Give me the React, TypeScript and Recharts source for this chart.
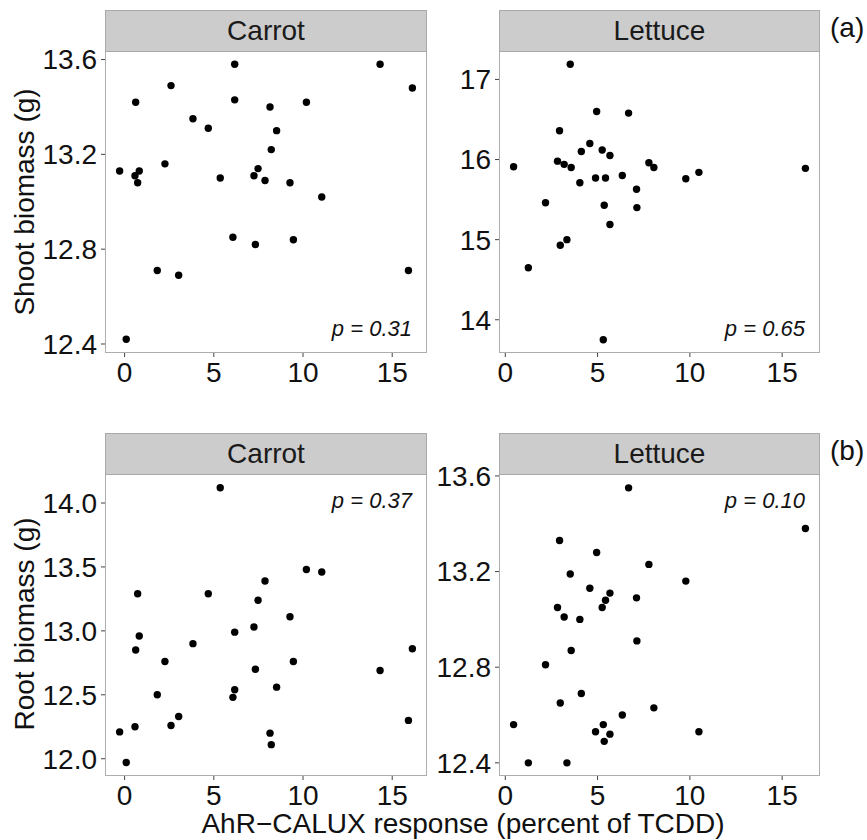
import React from "react";
import { ScatterChart, Scatter, XAxis, YAxis } from "recharts";

// Carrot samples (x = AhR-CALUX response, percent of TCDD)
const carrotX = [-0.28, 0.09, 0.62, 0.58, 0.73, 0.82, 1.83, 2.26, 2.6, 3.03, 3.83, 4.69, 5.36, 6.17, 6.17, 6.07, 7.25, 7.48, 7.33, 7.87, 8.15, 8.52, 8.22, 9.27, 9.46, 10.19, 11.05, 14.32, 16.13, 15.91];
const carrotShoot = [13.13, 12.42, 13.42, 13.11, 13.08, 13.13, 12.71, 13.16, 13.49, 12.69, 13.35, 13.31, 13.1, 13.58, 13.43, 12.85, 13.11, 13.14, 12.82, 13.09, 13.4, 13.3, 13.22, 13.08, 12.84, 13.42, 13.02, 13.58, 13.48, 12.71];
const carrotRoot = [12.21, 11.97, 12.85, 12.25, 13.29, 12.96, 12.5, 12.76, 12.26, 12.33, 12.9, 13.29, 14.12, 12.99, 12.54, 12.48, 13.03, 13.24, 12.7, 13.39, 12.2, 12.56, 12.11, 13.11, 12.76, 13.48, 13.46, 12.69, 12.86, 12.3];

// Lettuce samples
const lettuceX = [0.45, 1.25, 2.18, 2.83, 2.94, 2.98, 3.19, 3.34, 3.52, 3.57, 4.04, 4.12, 4.58, 4.89, 4.95, 5.25, 5.36, 5.31, 5.43, 5.67, 5.67, 6.34, 6.68, 7.11, 7.13, 7.78, 8.05, 9.78, 10.49, 16.26];
const lettuceShoot = [15.91, 14.65, 15.46, 15.98, 16.36, 14.93, 15.94, 15.0, 17.19, 15.9, 15.71, 16.1, 16.2, 15.77, 16.6, 16.12, 15.43, 13.75, 15.77, 16.05, 15.19, 15.8, 16.58, 15.63, 15.4, 15.96, 15.9, 15.76, 15.84, 15.89];
const lettuceRoot = [12.56, 12.4, 12.81, 13.05, 13.33, 12.65, 13.01, 12.4, 13.19, 12.87, 13.0, 12.69, 13.13, 12.53, 13.28, 13.05, 12.49, 12.56, 13.08, 13.11, 12.52, 12.6, 13.55, 13.09, 12.91, 13.23, 12.63, 13.16, 12.53, 13.38];

const xTicks = [0, 5, 10, 15];
const shootCarrotTicks = [12.4, 12.8, 13.2, 13.6];
const shootLettuceTicks = [14, 15, 16, 17];
const rootCarrotTicks = [12.0, 12.5, 13.0, 13.5, 14.0];
const rootLettuceTicks = [12.4, 12.8, 13.2, 13.6];

const pValues = ["0.31", "0.65", "0.37", "0.10"];

const FONT = '"Liberation Sans", Arial, Helvetica, sans-serif';

const toPoints = (xs: number[], ys: number[]) => xs.map((x, i) => ({ x, y: ys[i] }));

type Box = { x: number; y: number; w: number; h: number };

interface PanelProps {
  chart: Box; // outer chart box
  plot: Box; // plotting area
  data: { x: number; y: number }[];
  xDomain: [number, number];
  yDomain: [number, number];
  yTicks: number[];
  yFmt: (v: number) => string;
  strip: string;
  p: string;
  pTop: boolean;
}

const Dot = (props: any) => <circle cx={props.cx} cy={props.cy} r={3.7} fill="#000" />;

const Panel = ({ chart, plot, data, xDomain, yDomain, yTicks, yFmt, strip, p, pTop }: PanelProps) => {
  const yAxisWidth = plot.x - chart.x;
  const marginTop = plot.y - chart.y;
  const marginRight = chart.x + chart.w - (plot.x + plot.w);
  const xAxisHeight = chart.y + chart.h - (plot.y + plot.h);

  return (
    <>
      <div style={{ position: "absolute", left: chart.x, top: chart.y }}>
        <ScatterChart
          width={chart.w}
          height={chart.h}
          margin={{ top: marginTop, right: marginRight, bottom: 0, left: 0 }}
        >
          <XAxis
            type="number"
            dataKey="x"
            domain={xDomain}
            ticks={xTicks}
            allowDataOverflow
            height={xAxisHeight}
            axisLine={false}
            tickSize={4}
            tickMargin={5}
            tickLine={{ stroke: "#444" }}
            tick={{ fontSize: 28, fill: "#111" }}
          />
          <YAxis
            type="number"
            dataKey="y"
            domain={yDomain}
            ticks={yTicks}
            allowDataOverflow
            width={yAxisWidth}
            axisLine={false}
            tickSize={4}
            tickMargin={4}
            tickLine={{ stroke: "#444" }}
            tickFormatter={yFmt}
            tick={{ fontSize: 28, fill: "#111" }}
          />
          <Scatter data={data} shape={Dot} isAnimationActive={false} />
        </ScatterChart>
      </div>

      {/* panel border */}
      <div
        style={{
          position: "absolute",
          left: plot.x,
          top: plot.y,
          width: plot.w,
          height: plot.h,
          border: "1px solid #adadad",
          boxSizing: "border-box",
          pointerEvents: "none",
        }}
      />

      {/* facet strip */}
      <div
        style={{
          position: "absolute",
          left: plot.x,
          top: plot.y - 41,
          width: plot.w,
          height: 42,
          background: "#cccccc",
          border: "1px solid #a9a9a9",
          boxSizing: "border-box",
          display: "flex",
          alignItems: "center",
          justifyContent: "center",
          fontSize: 28,
          lineHeight: 1,
          color: "#1a1a1a",
        }}
      >
        {strip}
      </div>

      {/* p value */}
      <div
        style={{
          position: "absolute",
          left: plot.x + plot.w - 15,
          top: pTop ? plot.y + 15.5 : plot.y + plot.h - 35.5,
          transform: "translateX(-100%)",
          whiteSpace: "nowrap",
          fontSize: 22,
          lineHeight: 1,
          fontStyle: "italic",
          color: "#111",
        }}
      >
        p = {p}
      </div>
    </>
  );
};

const RotLabel = ({ x, y, text }: { x: number; y: number; text: string }) => (
  <div
    style={{
      position: "absolute",
      left: x,
      top: y,
      transform: "translate(-50%, -50%) rotate(-90deg)",
      whiteSpace: "nowrap",
      fontSize: 28,
      lineHeight: 1,
      color: "#111",
    }}
  >
    {text}
  </div>
);

const f1 = (v: number) => v.toFixed(1);
const f0 = (v: number) => v.toFixed(0);

export default function App() {
  const leftPlotX = 105;
  const rightPlotX = 499;

  return (
    <div
      style={{
        position: "absolute",
        left: 0,
        top: 0,
        width: 867,
        height: 840,
        background: "#fff",
        fontFamily: FONT,
        overflow: "hidden",
      }}
    >
      <Panel
        chart={{ x: 0, y: 0, w: 430, h: 400 }}
        plot={{ x: leftPlotX, y: 51, w: 322, h: 302 }}
        data={toPoints(carrotX, carrotShoot)}
        xDomain={[-1.1, 16.95]}
        yDomain={[12.362, 13.636]}
        yTicks={shootCarrotTicks}
        yFmt={f1}
        strip="Carrot"
        p={pValues[0]}
        pTop={false}
      />
      <Panel
        chart={{ x: 430, y: 0, w: 437, h: 400 }}
        plot={{ x: rightPlotX, y: 51, w: 321, h: 302 }}
        data={toPoints(lettuceX, lettuceShoot)}
        xDomain={[-0.34, 17.05]}
        yDomain={[13.585, 17.355]}
        yTicks={shootLettuceTicks}
        yFmt={f0}
        strip="Lettuce"
        p={pValues[1]}
        pTop={false}
      />
      <Panel
        chart={{ x: 0, y: 400, w: 430, h: 440 }}
        plot={{ x: leftPlotX, y: 474, w: 322, h: 302 }}
        data={toPoints(carrotX, carrotRoot)}
        xDomain={[-1.1, 16.95]}
        yDomain={[11.865, 14.227]}
        yTicks={rootCarrotTicks}
        yFmt={f1}
        strip="Carrot"
        p={pValues[2]}
        pTop={true}
      />
      <Panel
        chart={{ x: 430, y: 400, w: 437, h: 440 }}
        plot={{ x: rightPlotX, y: 474, w: 321, h: 302 }}
        data={toPoints(lettuceX, lettuceRoot)}
        xDomain={[-0.34, 17.05]}
        yDomain={[12.345, 13.608]}
        yTicks={rootLettuceTicks}
        yFmt={f1}
        strip="Lettuce"
        p={pValues[3]}
        pTop={true}
      />

      <RotLabel x={25} y={202} text="Shoot biomass (g)" />
      <RotLabel x={25} y={624} text="Root biomass (g)" />

      <div
        style={{
          position: "absolute",
          left: 463,
          top: 810,
          transform: "translateX(-50%)",
          whiteSpace: "nowrap",
          fontSize: 28,
          lineHeight: 1,
          color: "#111",
        }}
      >
        AhR−CALUX response (percent of TCDD)
      </div>

      <div style={{ position: "absolute", left: 830, top: 14, fontSize: 28, lineHeight: 1, color: "#111" }}>(a)</div>
      <div style={{ position: "absolute", left: 830, top: 437, fontSize: 28, lineHeight: 1, color: "#111" }}>(b)</div>
    </div>
  );
}
